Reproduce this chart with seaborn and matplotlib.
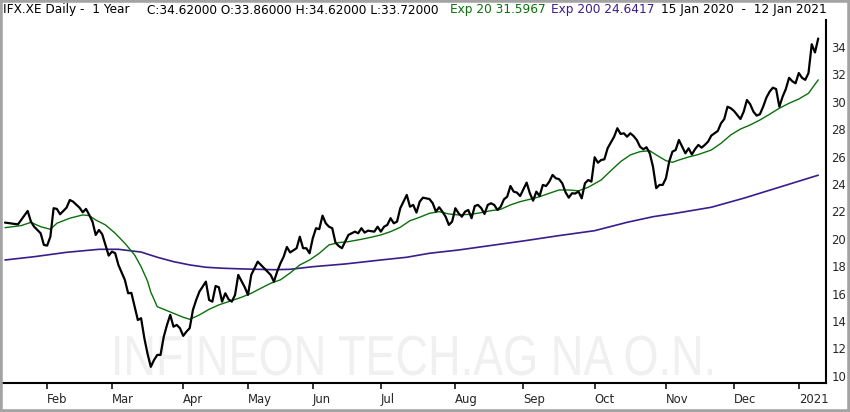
import numpy as np
import pandas as pd
import matplotlib
matplotlib.use("Agg")
import matplotlib.pyplot as plt
from matplotlib.patches import Rectangle, PathPatch
from matplotlib.textpath import TextPath
from matplotlib.font_manager import FontProperties
from matplotlib.transforms import Affine2D, IdentityTransform
import seaborn as sns

# ---------------- data ----------------
symbol = "IFX.XE"
watermark = "INFINEON TECH.AG NA O.N."
first_day = "2020-01-15"
last_day = "2021-01-12"
closed_days = ["2020-04-10", "2020-04-13", "2020-05-01", "2020-06-01",
               "2020-12-24", "2020-12-25", "2020-12-31", "2021-01-01"]

last_close, last_open, last_high, last_low = 34.62, 33.86, 34.62, 33.72
ema20_last, ema200_last = 31.5967, 24.6417

# trading-session number (0 = 15 Jan 2020) and daily close
close_session = [0, 4, 7, 8, 9, 11, 12, 13, 14, 15, 16, 17, 19, 20, 21, 23, 24, 25, 26, 27,
                 28, 29, 30, 31, 32, 33, 34, 35, 37, 38, 39, 41, 42, 43, 44, 45, 46, 47, 48, 49,
                 50, 51, 52, 53, 54, 55, 56, 57, 58, 59, 60, 62, 63, 64, 65, 66, 67, 68, 69, 70,
                 71, 72, 74, 75, 76, 78, 79, 80, 82, 83, 84, 85, 86, 87, 88, 90, 91, 92, 93, 94,
                 95, 96, 97, 98, 99, 100, 101, 102, 103, 104, 105, 106, 108, 109, 110, 111, 112, 114, 115, 116,
                 117, 118, 119, 120, 121, 122, 124, 125, 126, 127, 128, 129, 131, 132, 133, 134, 135, 136, 137, 138,
                 139, 140, 141, 142, 143, 144, 145, 146, 147, 148, 149, 150, 151, 152, 153, 154, 155, 156, 157, 158,
                 159, 161, 162, 163, 164, 165, 166, 167, 168, 169, 170, 171, 172, 173, 174, 175, 176, 177, 178, 179,
                 180, 181, 182, 183, 184, 185, 186, 188, 189, 190, 191, 192, 193, 194, 195, 196, 197, 198, 199, 200,
                 201, 202, 203, 204, 205, 206, 207, 208, 209, 210, 211, 212, 213, 214, 215, 216, 217, 218, 220, 221,
                 222, 223, 224, 225, 227, 228, 229, 230, 231, 232, 233, 234, 235, 236, 237, 238, 239, 240, 241, 242,
                 243, 244, 245, 246, 247, 248, 249, 250, 251]
close_value = [21.18, 21.05, 22.03, 21.25, 20.88, 20.40, 19.55, 19.50, 20.15, 22.23, 22.18, 21.79, 22.27, 22.83, 22.71, 22.27, 21.93, 22.18, 21.74, 21.25,
               20.28, 20.64, 20.33, 19.55, 18.77, 19.06, 18.95, 18.09, 16.99, 16.02, 16.05, 14.07, 14.20, 12.75, 11.60, 10.65, 11.15, 11.52, 11.52, 12.85,
               13.71, 14.44, 13.58, 13.71, 13.47, 12.91, 13.22, 13.47, 14.80, 15.53, 16.14, 16.87, 15.53, 15.41, 16.55, 16.46, 15.41, 16.02, 15.58, 15.41,
               15.90, 17.36, 16.46, 15.90, 17.36, 18.33, 18.09, 17.85, 17.36, 16.87, 17.60, 18.20, 18.69, 19.40, 19.00, 19.31, 20.15, 19.31, 19.31, 18.94,
               20.04, 20.77, 20.70, 21.69, 21.13, 20.88, 20.77, 19.72, 19.47, 19.31, 19.79, 20.28, 20.52, 20.40, 20.77, 20.45, 20.59, 20.52, 20.88, 20.52,
               20.88, 21.01, 21.50, 21.13, 21.25, 22.23, 23.20, 22.34, 22.47, 21.91, 22.71, 23.00, 22.90, 22.60, 21.98, 22.30, 21.98, 21.61, 21.01, 21.25,
               22.23, 21.86, 21.61, 21.98, 22.10, 21.50, 22.39, 22.47, 22.23, 21.81, 22.47, 22.59, 22.47, 22.10, 22.34, 22.88, 23.07, 23.85, 23.44, 23.37,
               23.12, 24.10, 23.32, 22.78, 23.44, 23.12, 23.93, 23.85, 24.17, 24.66, 24.42, 24.35, 24.05, 23.40, 23.00, 23.32, 23.30, 23.45, 22.95, 24.05,
               24.29, 24.17, 25.95, 25.55, 25.75, 25.80, 26.61, 27.45, 28.07, 27.65, 27.70, 27.45, 27.70, 27.50, 27.21, 26.72, 26.53, 26.68, 26.24, 25.26,
               23.69, 23.93, 23.93, 24.42, 25.63, 26.36, 26.48, 27.21, 26.72, 26.24, 26.60, 26.15, 26.55, 26.85, 26.65, 26.85, 27.09, 27.53, 27.87, 28.43,
               28.74, 29.64, 29.53, 29.33, 28.74, 29.28, 30.13, 29.82, 29.28, 28.99, 29.09, 29.64, 30.30, 30.74, 31.03, 30.93, 29.64, 30.37, 30.93, 31.75,
               31.50, 31.35, 32.10, 31.75, 31.60, 32.10, 34.20, 33.60, 34.62]

ema20_session = [0, 5, 8, 11, 14, 16, 20, 24, 26, 28, 31, 34, 37, 40, 42, 44, 45, 47, 49, 52,
                 55, 57, 60, 63, 66, 69, 73, 76, 79, 82, 85, 88, 91, 94, 97, 100, 103, 106, 110, 113,
                 116, 119, 122, 125, 128, 131, 134, 137, 140, 144, 147, 150, 153, 156, 159, 162, 165, 168, 171, 174,
                 177, 180, 184, 187, 190, 193, 196, 199, 201, 204, 206, 208, 211, 214, 218, 221, 224, 227, 230, 233,
                 236, 239, 242, 245, 248, 249, 251]
ema20_value = [20.81, 20.96, 21.20, 20.88, 20.69, 21.13, 21.50, 21.74, 21.69, 21.37, 21.01, 20.40, 19.67, 18.82, 17.96, 16.90, 16.10, 15.04, 14.85, 14.56,
               14.27, 14.12, 14.44, 14.85, 15.17, 15.41, 15.73, 16.02, 16.39, 16.75, 17.00, 17.50, 18.09, 18.45, 18.94, 19.55, 19.72, 19.79, 19.96, 20.11,
               20.28, 20.52, 20.84, 21.32, 21.57, 21.86, 21.98, 21.81, 21.74, 21.79, 21.91, 22.05, 22.15, 22.47, 22.71, 22.88, 23.07, 23.32, 23.56, 23.56,
               23.50, 23.76, 24.29, 24.97, 25.63, 26.12, 26.36, 26.43, 26.12, 25.70, 25.58, 25.75, 25.97, 26.15, 26.48, 26.97, 27.58, 28.01, 28.31, 28.67,
               29.09, 29.53, 29.89, 30.20, 30.62, 30.95, 31.60]

ema200_session = [0, 9, 19, 29, 35, 42, 47, 52, 57, 62, 67, 73, 78, 83, 88, 95, 105, 116, 124, 131,
                  140, 160, 171, 182, 192, 200, 207, 218, 228, 238, 251]
ema200_value = [18.45, 18.69, 19.01, 19.23, 19.23, 19.03, 18.65, 18.33, 18.09, 17.92, 17.85, 17.80, 17.77, 17.74, 17.77, 17.96, 18.16, 18.45, 18.65, 18.94,
                19.18, 19.84, 20.23, 20.59, 21.20, 21.61, 21.86, 22.30, 22.96, 23.69, 24.64]

y_ticks = [10, 12, 14, 16, 18, 20, 22, 24, 26, 28, 30, 32, 34]

# ---------------- styling ----------------
C_CLOSE = "#000000"
C_EMA20 = "#0a700a"
C_EMA200 = "#3a1c8c"

sns.set_theme(style="white")
plt.rcParams["font.family"] = ["DejaVu Sans"]

W, H, DPI = 850, 412, 100
fig = plt.figure(figsize=(W / DPI, H / DPI), dpi=DPI, facecolor="white")

def px_x(x):
    return x / W

def px_y(y):
    return 1 - y / H

ax = fig.add_axes([px_x(3), px_y(383), px_x(826) - px_x(3), px_y(20) - px_y(383)])
ax.set_facecolor("white")

# trading calendar
sessions = pd.bdate_range(first_day, last_day)
sessions = sessions[~sessions.isin(pd.to_datetime(closed_days))]

df_close = pd.DataFrame({"session": close_session, "value": close_value})
df_e20 = pd.DataFrame({"session": ema20_session, "value": ema20_value})
df_e200 = pd.DataFrame({"session": ema200_session, "value": ema200_value})

# watermark: condensed text fitted into its box (pixels: x 115..712, baseline 375, cap height 40)
tp = TextPath((0, 0), watermark, size=100, prop=FontProperties(family="Liberation Sans"))
ext = tp.get_extents()
sx = (712 - 115) / ext.width
sy = 40 / ext.height
wm_tr = Affine2D().translate(-ext.x0, 0).scale(sx, sy).translate(115, H - 375)
wm = PathPatch(wm_tr.transform_path(tp), transform=IdentityTransform(),
               facecolor="#f0f0f0", edgecolor="none", zorder=0, clip_on=False)
ax.add_artist(wm)

sns.lineplot(data=df_e200, x="session", y="value", ax=ax, color=C_EMA200, linewidth=1.2, zorder=2)
sns.lineplot(data=df_e20, x="session", y="value", ax=ax, color=C_EMA20, linewidth=1.0, zorder=3)
sns.lineplot(data=df_close, x="session", y="value", ax=ax, color=C_CLOSE, linewidth=1.6, zorder=4)

ax.set_xlim(-0.62, 253.4)
ax.set_ylim(9.47, 35.97)
ax.set_xlabel("")
ax.set_ylabel("")

# month ticks at first session of each month
s = pd.Series(sessions)
first_of_month = s.groupby([s.dt.year, s.dt.month]).head(1)
tick_pos = [i for i in first_of_month.index if i > 0]
tick_lab = [sessions[i].strftime("%b") if sessions[i].month != 1 else str(sessions[i].year) for i in tick_pos]
ax.set_xticks(tick_pos)
ax.set_xticklabels(tick_lab)
for lab in ax.get_xticklabels():
    lab.set_ha("left")
ax.tick_params(axis="x", direction="out", length=4.5, width=1.1, color="black",
               labelsize=8.4, pad=2.5, bottom=True)

ax.yaxis.tick_right()
ax.set_yticks(y_ticks)
ax.set_yticklabels([str(v) for v in y_ticks])
ax.tick_params(axis="y", length=0, labelsize=8.4, pad=4, right=True, left=False)

for side in ["left", "top"]:
    ax.spines[side].set_visible(False)
for side in ["bottom", "right"]:
    ax.spines[side].set_visible(True)
    ax.spines[side].set_color("black")
    ax.spines[side].set_linewidth(1.5)
ax.grid(False)

# header
hy = px_y(10)
fs = 8.7
fig.text(px_x(3), hy, f"{symbol} Daily -  1 Year", ha="left", va="center", fontsize=fs, color="black")
fig.text(px_x(147), hy, f"C:{last_close:.5f} O:{last_open:.5f} H:{last_high:.5f} L:{last_low:.5f}",
         ha="left", va="center", fontsize=fs, color="black")
fig.text(px_x(450), hy, f"Exp 20 {ema20_last:.4f}", ha="left", va="center", fontsize=fs, color=C_EMA20)
fig.text(px_x(551), hy, f"Exp 200 {ema200_last:.4f}", ha="left", va="center", fontsize=fs, color=C_EMA200)
d0 = sessions[0]
d1 = sessions[-1]
fig.text(px_x(661), hy, f"{d0.day} {d0:%b %Y}  -  {d1.day} {d1:%b %Y}",
         ha="left", va="center", fontsize=fs, color="black")

# outer frame
fig.patches.append(Rectangle((0, 0), 1, 1, transform=fig.transFigure, fill=False,
                             edgecolor="#a3a3a3", linewidth=4.0, zorder=10))

fig.savefig("out.png", dpi=DPI, facecolor="white")
